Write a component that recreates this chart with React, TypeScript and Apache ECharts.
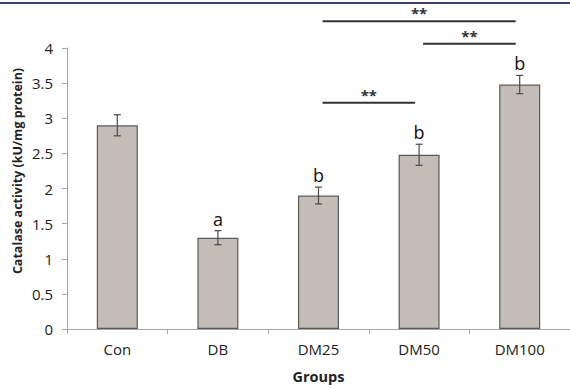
import React, { useEffect, useRef } from "react";
import * as echarts from "echarts";

const categories = ["Con", "DB", "DM25", "DM50", "DM100"];
const means = [2.9, 1.3, 1.9, 2.48, 3.48];
const errors = [0.15, 0.1, 0.12, 0.15, 0.13];
const letters = ["", "a", "b", "b", "b"];
const yTicks = { min: 0, max: 4, interval: 0.5 };
// significance brackets: from category index, to category index, bracket level (value units), text
const bracketFrom = [2, 3, 2];
const bracketTo = [3, 4, 4];
const bracketLevel = [3.22, 4.06, 4.38];
const bracketText = ["**", "**", "**"];

const FONT = "'Open Sans', 'Noto Sans', sans-serif";

export default function App() {
  const ref = useRef<HTMLDivElement>(null);
  useEffect(() => {
    document.body.style.margin = "0";
    const chart = echarts.init(ref.current!, null, { renderer: "svg" });
    const errData = means.map((m, i) => [i, m - errors[i], m + errors[i], letters[i]]);
    const brData = bracketFrom.map((f, i) => [f, bracketTo[i], bracketLevel[i], bracketText[i]]);
    chart.setOption({
      animation: false,
      backgroundColor: "#ffffff",
      grid: { left: 67, top: 48, width: 505, bottom: 57 },
      xAxis: {
        type: "category",
        data: categories,
        name: "Groups",
        nameLocation: "middle",
        nameGap: 40,
        nameTextStyle: { fontFamily: FONT, fontSize: 14.5, fontWeight: "bold", color: "#222" },
        axisLine: { lineStyle: { color: "#a6a6a6", width: 1 } },
        axisTick: { show: true, length: 5, lineStyle: { color: "#a6a6a6" }, alignWithLabel: false },
        axisLabel: { fontFamily: FONT, fontSize: 15, color: "#222", margin: 12 },
      },
      yAxis: {
        type: "value",
        min: yTicks.min,
        max: yTicks.max,
        interval: yTicks.interval,
        axisLine: { show: true, lineStyle: { color: "#a6a6a6", width: 1 } },
        axisTick: { show: true, length: 5, lineStyle: { color: "#a6a6a6" } },
        splitLine: { show: false },
        axisLabel: { fontFamily: FONT, fontSize: 15, color: "#222", margin: 14 },
      },
      graphic: [
        {
          type: "line",
          shape: { x1: 0, y1: 3, x2: 570, y2: 3 },
          style: { stroke: "#3b3f6b", lineWidth: 2 },
        },
        {
          type: "text",
          x: 17,
          y: 171,
          rotation: Math.PI / 2,
          style: {
            text: "Catalase activity (kU/mg protein)",
            fontFamily: FONT,
            fontSize: 12.5,
            fontWeight: "bold",
            fill: "#222",
            align: "center",
            verticalAlign: "middle",
          },
        },
      ],
      series: [
        {
          type: "bar",
          data: means,
          barWidth: 41,
          itemStyle: { color: "#c4bcb6", borderColor: "#5a5a5a", borderWidth: 1.2 },
        },
        {
          type: "custom",
          data: errData,
          z: 5,
          renderItem: (params: any, api: any) => {
            const i = api.value(0);
            const lo = api.coord([i, api.value(1)]);
            const hi = api.coord([i, api.value(2)]);
            const x = lo[0];
            const cap = 3.5;
            const st = { stroke: "#4a4a4a", lineWidth: 1.2 };
            const children: any[] = [
              { type: "line", shape: { x1: x, y1: lo[1], x2: x, y2: hi[1] }, style: st },
              { type: "line", shape: { x1: x - cap, y1: lo[1], x2: x + cap, y2: lo[1] }, style: st },
              { type: "line", shape: { x1: x - cap, y1: hi[1], x2: x + cap, y2: hi[1] }, style: st },
            ];
            const letter = letters[params.dataIndex];
            if (letter) {
              children.push({
                type: "text",
                x: x,
                y: hi[1] - 12,
                style: {
                  text: letter,
                  fontFamily: FONT,
                  fontSize: 18,
                  fill: "#111",
                  align: "center",
                  verticalAlign: "middle",
                },
              });
            }
            return { type: "group", children };
          },
        },
        {
          type: "custom",
          data: brData,
          z: 5,
          clip: false,
          renderItem: (params: any, api: any) => {
            const a = api.coord([api.value(0), api.value(2)]);
            const b = api.coord([api.value(1), api.value(2)]);
            const x1 = a[0] + 4;
            const x2 = b[0] - 4;
            const y = a[1];
            return {
              type: "group",
              children: [
                { type: "line", shape: { x1, y1: y, x2, y2: y }, style: { stroke: "#333", lineWidth: 2 } },
                {
                  type: "text",
                  x: (x1 + x2) / 2,
                  y: y - 8,
                  style: {
                    text: bracketText[params.dataIndex],
                    fontFamily: FONT,
                    fontSize: 15,
                    fontWeight: "bold",
                    fill: "#333",
                    align: "center",
                    verticalAlign: "middle",
                  },
                },
              ],
            };
          },
        },
      ],
    });
    return () => chart.dispose();
  }, []);
  return <div ref={ref} style={{ position: "absolute", left: 0, top: 0, width: 570, height: 389 }} />;
}
